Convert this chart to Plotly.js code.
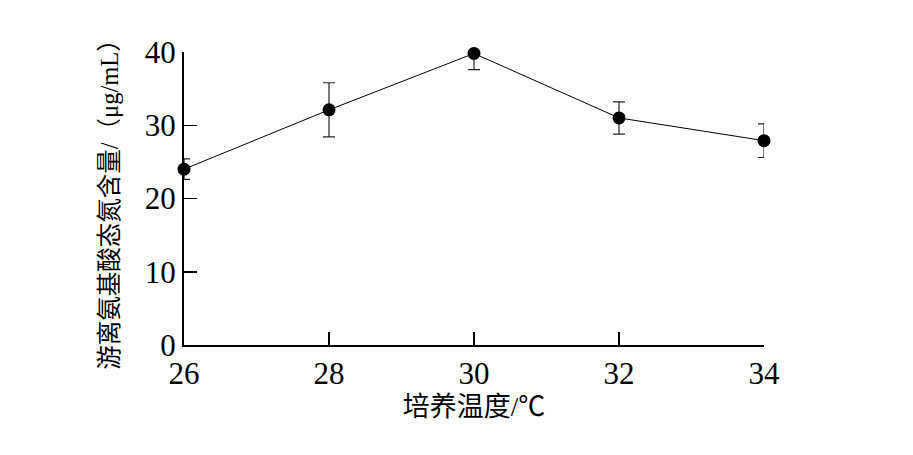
<!DOCTYPE html>
<html><head><meta charset="utf-8">
<script src="https://cdn.plot.ly/plotly-3.0.1.min.js"></script>
<style>body{margin:0;background:#fff}#c{width:913px;height:455px}</style>
</head><body><div id="c"></div>
<script>
const temps = [26, 28, 30, 32, 34];
const values = [24.0, 32.1, 39.8, 31.0, 27.9];
const errors = [1.4, 3.7, 2.2, 2.2, 2.3];
const yTicks = [0, 10, 20, 30, 40];
const xTicks = [26, 28, 30, 32, 34];

const trace = {
  x: temps, y: values, type: 'scatter', mode: 'lines+markers',
  line: {color: '#000', width: 1},
  marker: {color: '#000', size: 13},
  error_y: {type: 'data', array: errors, visible: true, color: '#222', thickness: 1.2, width: 6},
  cliponaxis: false
};
const serif = 'Liberation Serif';
const mixed = 'Liberation Serif, Noto Sans CJK SC';
const layout = {
  width: 913, height: 455,
  margin: {l: 184, r: 149, t: 52, b: 110},
  paper_bgcolor: '#fff', plot_bgcolor: '#fff',
  showlegend: false,
  xaxis: {
    range: [26, 34], tickvals: xTicks, ticktext: xTicks.map(String),
    ticks: 'inside', ticklen: 13, tickwidth: 1.5, tickcolor: '#000',
    showline: true, linecolor: '#000', linewidth: 2, showgrid: false, zeroline: false,
    tickfont: {family: serif, size: 31, color: '#000'},
    title: {text: '培养温度/℃', font: {family: mixed, size: 27, color: '#000'}, standoff: 7}
  },
  yaxis: {
    range: [0, 40], tickvals: yTicks, ticktext: yTicks.map(String),
    ticks: 'inside', ticklen: 13, tickwidth: 1.5, tickcolor: '#000',
    showline: true, linecolor: '#000', linewidth: 2, showgrid: false, zeroline: false,
    tickfont: {family: serif, size: 31, color: '#000'},
    title: {text: '游离氨基酸态氮含量/（μg/mL）', font: {family: mixed, size: 24.5, color: '#000'}, standoff: 19}
  }
};
Plotly.newPlot('c', [trace], layout, {staticPlot: true});
</script></body></html>
